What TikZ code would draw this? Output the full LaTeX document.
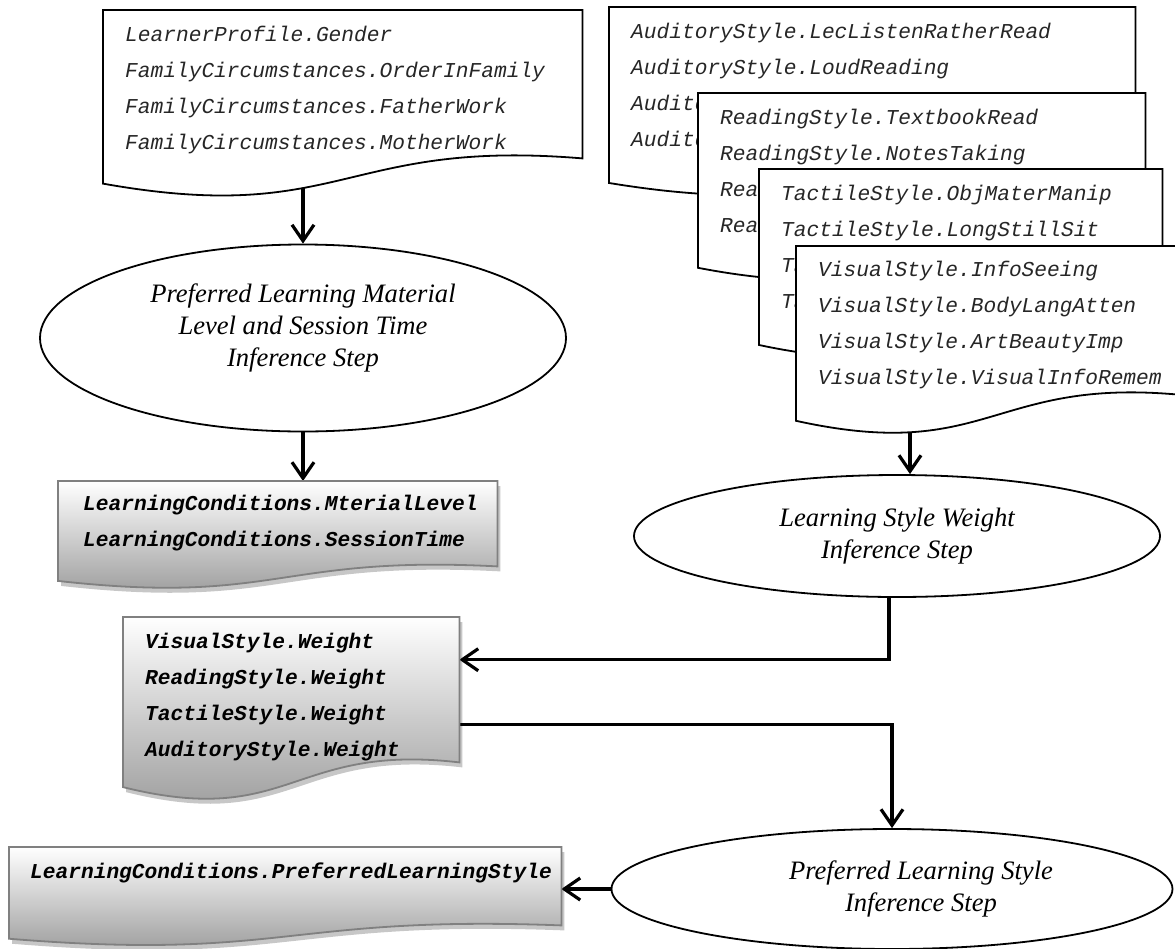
\documentclass[tikz,border=0pt]{standalone}
\usepackage{fontspec}
\setmainfont{Liberation Serif}
\setmonofont{Liberation Mono}
\usetikzlibrary{arrows.meta,positioning,calc,backgrounds,shapes.geometric,shadows}
\tikzset{
  docframe/.style={rectangle, inner sep=0pt, anchor=north west},
  doctxt/.style={inner sep=0pt, align=left, text=black!85, font=\fontsize{21.2}{36}\selectfont\ttfamily\itshape},
  outtxt/.style={doctxt, text=black, font=\fontsize{21.2}{36}\selectfont\ttfamily\bfseries\itshape},
  stepell/.style={ellipse, draw, line width=1.8pt, fill=white, inner sep=0pt, align=center,
    font=\fontsize{26.6}{32}\selectfont\itshape},
  wdoc/.style={draw=black, line width=1.8pt, fill=white},
  gdoc/.style={draw=black!50, line width=1.8pt, top color=white, bottom color=black!42,
    drop shadow={shadow xshift=3pt, shadow yshift=-5pt, fill=black, opacity=0.22}},
  fl/.style={-{Straight Barb[length=16pt, width=22pt]}, line width=3.2pt},
}
% document outline: flat top, wavy bottom below the frame node
\newcommand{\docoutline}[2]{%
  \path[#1] let \p1=(#2.north west), \p2=(#2.south east), \p3=($(\p1)!0.5!(\p2)$),
    \n1={\y1-\y2} in
    (\p1) -- (\x2,\y1) -- (\p2)
    .. controls (\x3,{\y2+0.135*\n1}) and (\x3,{\y2-0.458*\n1}) .. (\x1,{\y2-0.17*\n1}) -- cycle;}

\begin{document}
\begin{tikzpicture}[x=1pt, y=-1pt]
  \path[use as bounding box] (0,0) rectangle (1175,948);
  % profile inputs
  \node[docframe, minimum width=479pt, minimum height=148pt] (fam) at (103,10) {};
  \docoutline{wdoc}{fam}
  \node[doctxt, below right=16pt and 22pt of fam.north west] (famtxt)
    {LearnerProfile.Gender\\FamilyCircumstances.OrderInFamily\\FamilyCircumstances.FatherWork\\FamilyCircumstances.MotherWork};
  % style inputs, stacked
  \node[docframe, minimum width=526pt, minimum height=150pt] (auds) at (609,7) {};
  \docoutline{wdoc}{auds}
  \node[doctxt, below right=16pt and 22pt of auds.north west] (audtxt)
    {AuditoryStyle.LecListenRatherRead\\AuditoryStyle.LoudReading\\AuditoryStyle\\AuditoryStyle};
  \node[docframe, minimum width=447pt, minimum height=149pt] (reads) at (698,93) {};
  \docoutline{wdoc}{reads}
  \node[doctxt, below right=16pt and 22pt of reads.north west] (readtxt)
    {ReadingStyle.TextbookRead\\ReadingStyle.NotesTaking\\ReadingStyle\\ReadingStyle};
  \node[docframe, minimum width=403pt, minimum height=150pt] (tacts) at (759,169) {};
  \docoutline{wdoc}{tacts}
  \node[doctxt, below right=16pt and 22pt of tacts.north west] (tacttxt)
    {TactileStyle.ObjMaterManip\\TactileStyle.LongStillSit\\TactileStyle\\TactileStyle};
  \node[docframe, minimum width=390pt, minimum height=149pt] (viss) at (796,246) {};
  \docoutline{wdoc}{viss}
  \node[doctxt, below right=15pt and 22pt of viss.north west] (vistxt)
    {VisualStyle.InfoSeeing\\VisualStyle.BodyLangAtten\\VisualStyle.ArtBeautyImp\\VisualStyle.VisualInfoRemem};
  % inference steps
  \node[stepell, minimum width=526pt, minimum height=187pt, text depth=25pt] (matstep) at (303,338)
    {Preferred Learning Material\\Level and Session Time\\Inference Step};
  \node[stepell, minimum width=526pt, minimum height=122pt] (stylestep) at (897,536)
    {Learning Style Weight\\Inference Step};
  \node[stepell, minimum width=561pt, minimum height=120pt] (prefstep) at (892,889)
    {\hspace*{58pt}\begin{tabular}{@{}c@{}}Preferred Learning Style\\Inference Step\end{tabular}};
  % outputs
  \node[docframe, minimum width=439pt, minimum height=85pt] (matout) at (58,481) {};
  \docoutline{gdoc}{matout}
  \node[outtxt, below right=14pt and 25pt of matout.north west] (mattxt)
    {LearningConditions.MterialLevel\\LearningConditions.SessionTime};
  \node[docframe, minimum width=336pt, minimum height=145pt] (wout) at (123,617) {};
  \docoutline{gdoc}{wout}
  \node[outtxt, below right=16pt and 22pt of wout.north west] (wtxt)
    {VisualStyle.Weight\\ReadingStyle.Weight\\TactileStyle.Weight\\AuditoryStyle.Weight};
  \node[docframe, minimum width=552pt, minimum height=78pt] (prefout) at (9,847) {};
  \docoutline{gdoc}{prefout}
  \node[outtxt, below right=16pt and 21pt of prefout.north west] (preftxt)
    {LearningConditions.PreferredLearningStyle};
  % flow
  \begin{scope}[on background layer]
    \fill[white] (0,0) rectangle (1175,948);
    \draw[fl] (fam.south -| matstep.north) -- (matstep.north);
    \draw[fl] (matstep.south) -- (matstep.south |- matout.north);
    \draw[fl] ([xshift=13pt]stylestep.north |- viss.south) -- ([xshift=13pt]stylestep.north);
    \draw[fl] ([xshift=-8pt]stylestep.south) |- ([yshift=30pt]wout.east);
    \draw[fl] ([yshift=-35pt]wout.east) -| (prefstep.north);
    \draw[fl] (prefstep.west) -- (prefstep.west -| prefout.east);
  \end{scope}
\end{tikzpicture}
\end{document}
